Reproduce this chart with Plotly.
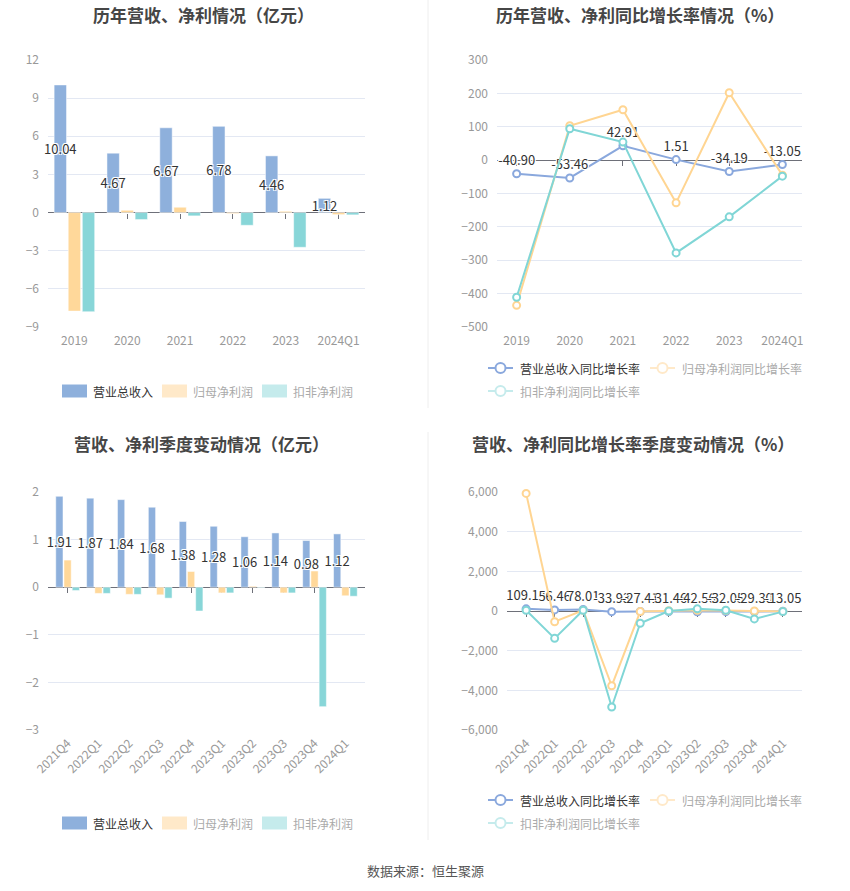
import plotly.graph_objects as go

# ---------------- data ----------------
years = ["2019", "2020", "2021", "2022", "2023", "2024Q1"]
rev_year = [10.04, 4.67, 6.67, 6.78, 4.46, 1.12]
np_year = [-7.75, 0.18, 0.42, -0.08, 0.10, -0.16]
npd_year = [-7.80, -0.55, -0.26, -1.00, -2.73, -0.18]

rev_year_g = [-40.90, -53.46, 42.91, 1.51, -34.19, -13.05]
np_year_g = [-435, 103, 151, -128, 202, -45]
npd_year_g = [-411, 94, 54, -278, -170, -48]

quarters = ["2021Q4", "2022Q1", "2022Q2", "2022Q3", "2022Q4",
            "2023Q1", "2023Q2", "2023Q3", "2023Q4", "2024Q1"]
rev_q = [1.91, 1.87, 1.84, 1.68, 1.38, 1.28, 1.06, 1.14, 0.98, 1.12]
np_q = [0.57, -0.13, -0.15, -0.16, 0.33, -0.12, 0.02, -0.12, 0.34, -0.18]
npd_q = [-0.07, -0.13, -0.15, -0.23, -0.50, -0.12, -0.01, -0.12, -2.51, -0.19]

rev_q_g = [109.14, 56.46, 78.01, -33.93, -27.41, -31.46, -42.56, -32.05, -29.30, -13.05]
np_q_g = [5930, -540, 30, -3770, -30, 10, 40, 20, 0, -20]
npd_q_g = [40, -1380, 40, -4840, -620, 0, 110, 40, -400, -30]

bar_names = ["营业总收入", "归母净利润", "扣非净利润"]
line_names = ["营业总收入同比增长率", "归母净利润同比增长率", "扣非净利润同比增长率"]

# ---------------- style ----------------
FONT = "Noto Sans CJK SC"
C_BLUE, C_ORANGE, C_CYAN = "#8eb0dc", "#ffd89a", "#88d6d8"
L_BLUE, L_ORANGE, L_CYAN = "#8aa8dd", "#ffd592", "#80d6d6"
P_ORANGE, P_CYAN = "#ffe9c9", "#c5ebec"
GRID = "#e3e8f3"
TICK = "#999999"
AXIS = "#6e7079"
SHADOW = "1px 1px 0 #fff, -1px -1px 0 #fff, 1px -1px 0 #fff, -1px 1px 0 #fff"

W, H = 850, 891
def fx(px): return px / W
def fy(py): return 1 - py / H

fig = go.Figure()

def add_bars(xcat, series, xa, ya):
    colors = [C_BLUE, C_ORANGE, C_CYAN]
    for i, (name, vals) in enumerate(zip(bar_names, series)):
        kw = {}
        if i == 0:
            kw = dict(text=[f"{v:.2f}" for v in vals], textposition="inside",
                      insidetextanchor="middle", textangle=0, constraintext="none",
                      textfont=dict(color="#333", size=13, family=FONT, shadow=SHADOW))
        fig.add_trace(go.Bar(x=xcat, y=vals, name=name, marker_color=colors[i],
                             marker_line=dict(color="#ffffff", width=0.5),
                             xaxis=xa, yaxis=ya, showlegend=False, hoverinfo="skip",
                             cliponaxis=False, **kw))

def add_lines(xcat, series, xa, ya):
    colors = [L_BLUE, L_ORANGE, L_CYAN]
    for i, (name, vals) in enumerate(zip(line_names, series)):
        kw = {}
        mode = "lines+markers"
        if i == 0:
            mode = "lines+markers+text"
            kw = dict(text=[f"{v:.2f}" for v in vals], textposition="top center",
                      textfont=dict(color="#333", size=13, family=FONT, shadow=SHADOW))
        fig.add_trace(go.Scatter(x=xcat, y=vals, mode=mode, name=name,
                                 line=dict(color=colors[i], width=2),
                                 marker=dict(symbol="circle", size=7, color="#ffffff",
                                             line=dict(width=2, color=colors[i])),
                                 xaxis=xa, yaxis=ya, showlegend=False, hoverinfo="skip",
                                 cliponaxis=False, **kw))

add_bars(years, [rev_year, np_year, npd_year], "x", "y")
add_lines(years, [rev_year_g, np_year_g, npd_year_g], "x2", "y2")
add_bars(quarters, [rev_q, np_q, npd_q], "x3", "y3")
add_lines(quarters, [rev_q_g, np_q_g, npd_q_g], "x4", "y4")

# ---------------- axes ----------------
def xaxis(domain, anchor, angle=0, standoff=5):
    return dict(domain=domain, anchor=anchor, type="category", showgrid=False,
                showline=False, zeroline=False, ticks="", automargin=False,
                tickangle=angle, ticklabelstandoff=standoff,
                tickfont=dict(color=TICK, size=12, family=FONT), fixedrange=True)

def yaxis(domain, anchor, rng, dtick, fmt=None):
    d = dict(domain=domain, anchor=anchor, range=rng, dtick=dtick, tick0=0,
             showgrid=True, gridcolor=GRID, gridwidth=1, automargin=False,
             zeroline=True, zerolinecolor=AXIS, zerolinewidth=1,
             showline=False, ticks="", ticklabelstandoff=8,
             tickfont=dict(color=TICK, size=12, family=FONT), fixedrange=True)
    if fmt:
        d["tickformat"] = fmt
    return d

def zero_tick_axis(base, dom, rng):
    # category ticks hanging from the zero line (echarts axis "onZero")
    pos = dom[0] + (0 - rng[0]) / (rng[1] - rng[0]) * (dom[1] - dom[0])
    return dict(overlaying=base, matches=base, anchor="free", position=pos,
                type="category", showgrid=False, zeroline=False, showline=False,
                ticks="outside", ticklen=5, tickwidth=1, tickcolor=AXIS,
                showticklabels=False, automargin=False, layer="below traces",
                fixedrange=True)

top_dom = [fy(327), fy(60)]
bot_dom = [fy(730), fy(492)]
r1, r2, r3, r4 = [-9, 12], [-500, 300], [-3, 2], [-6000, 6000]

fig.update_layout(
    xaxis=xaxis([fx(48), fx(365)], "y"),
    yaxis=yaxis(top_dom, "x", r1, 3),
    xaxis2=xaxis([fx(497), fx(802)], "y2"),
    yaxis2=yaxis(top_dom, "x2", r2, 100),
    xaxis3=xaxis([fx(48), fx(365)], "y3", -45, 3),
    yaxis3=yaxis(bot_dom, "x3", r3, 1),
    xaxis4=xaxis([fx(507), fx(802)], "y4", -45, 3),
    yaxis4=yaxis(bot_dom, "x4", r4, 2000, ","),
    xaxis5=zero_tick_axis("x", top_dom, r1),
    xaxis6=zero_tick_axis("x2", top_dom, r2),
    xaxis7=zero_tick_axis("x3", bot_dom, r3),
    xaxis8=zero_tick_axis("x4", bot_dom, r4),
)
# give the tick-only axes something to show (the same categories)
for xa, ya, cats in [("x5", "y", years), ("x6", "y2", years),
                     ("x7", "y3", quarters), ("x8", "y4", quarters)]:
    fig.add_trace(go.Scatter(x=cats, y=[None] * len(cats), mode="markers",
                             xaxis=xa, yaxis=ya, showlegend=False, hoverinfo="skip"))

# ---------------- custom legends ----------------
def legend_text(text, x, y, color):
    fig.add_annotation(text=text, x=fx(x), y=fy(y), xref="paper", yref="paper",
                       showarrow=False, xanchor="left", yanchor="middle",
                       font=dict(size=12, color=color, family=FONT))

def bar_legend(yc):
    cols = [C_BLUE, P_ORANGE, P_CYAN]
    tcols = ["#333", "#aaa", "#aaa"]
    xs = [62, 162, 262]
    for name, c, tc, x0 in zip(bar_names, cols, tcols, xs):
        fig.add_shape(type="rect", xref="paper", yref="paper",
                      x0=fx(x0), x1=fx(x0 + 25), y0=fy(yc + 6.5), y1=fy(yc - 6.5),
                      fillcolor=c, line=dict(width=0), layer="above")
        legend_text(name, x0 + 29, yc, tc)

def line_legend(y1, y2):
    cols = [L_BLUE, P_ORANGE, P_CYAN]
    tcols = ["#333", "#aaa", "#aaa"]
    pos = [(488, y1), (650, y1), (488, y2)]
    for name, c, tc, (x0, yc) in zip(line_names, cols, tcols, pos):
        fig.add_shape(type="line", xref="paper", yref="paper",
                      x0=fx(x0), x1=fx(x0 + 25), y0=fy(yc), y1=fy(yc),
                      line=dict(color=c, width=2), layer="above")
        fig.add_shape(type="circle", xref="paper", yref="paper",
                      x0=fx(x0 + 12.5 - 5), x1=fx(x0 + 12.5 + 5),
                      y0=fy(yc + 5), y1=fy(yc - 5),
                      fillcolor="#ffffff", line=dict(color=c, width=2), layer="above")
        legend_text(name, x0 + 30, yc, tc)

bar_legend(391)
bar_legend(823)
line_legend(368, 391)
line_legend(800, 823)

# ---------------- titles, source ----------------
annos = [
    ("历年营收、净利情况（亿元）", 203, 14),
    ("历年营收、净利同比增长率情况（%）", 640, 14),
    ("营收、净利季度变动情况（亿元）", 201, 444),
    ("营收、净利同比增长率季度变动情况（%）", 633, 444),
]
for t, x, y in annos:
    fig.add_annotation(text=f"<b>{t}</b>", x=fx(x), y=fy(y), xref="paper", yref="paper",
                       showarrow=False, xanchor="center", yanchor="middle",
                       font=dict(size=17, color="#464646", family=FONT))
fig.add_annotation(text="数据来源：恒生聚源", x=0.5, y=fy(870), xref="paper", yref="paper",
                   showarrow=False, xanchor="center", yanchor="middle",
                   font=dict(size=13, color="#555", family=FONT))

# dividers
fig.add_shape(type="line", xref="paper", yref="paper", x0=fx(428), x1=fx(428),
              y0=fy(0), y1=fy(408), line=dict(color="#eeeeee", width=1))
fig.add_shape(type="line", xref="paper", yref="paper", x0=fx(428), x1=fx(428),
              y0=fy(432), y1=fy(840), line=dict(color="#eeeeee", width=1))

fig.update_layout(
    width=W, height=H, margin=dict(l=0, r=0, t=0, b=0, autoexpand=False),
    paper_bgcolor="#ffffff", plot_bgcolor="#ffffff",
    barmode="group", bargap=0.2, bargroupgap=0.12,
    font=dict(family=FONT),
    hovermode=False, showlegend=False,
)

fig.write_html(
    "out.html",
    config={"displayModeBar": False},
    post_script="document.body.style.margin='0';document.body.style.overflow='hidden';",
)
